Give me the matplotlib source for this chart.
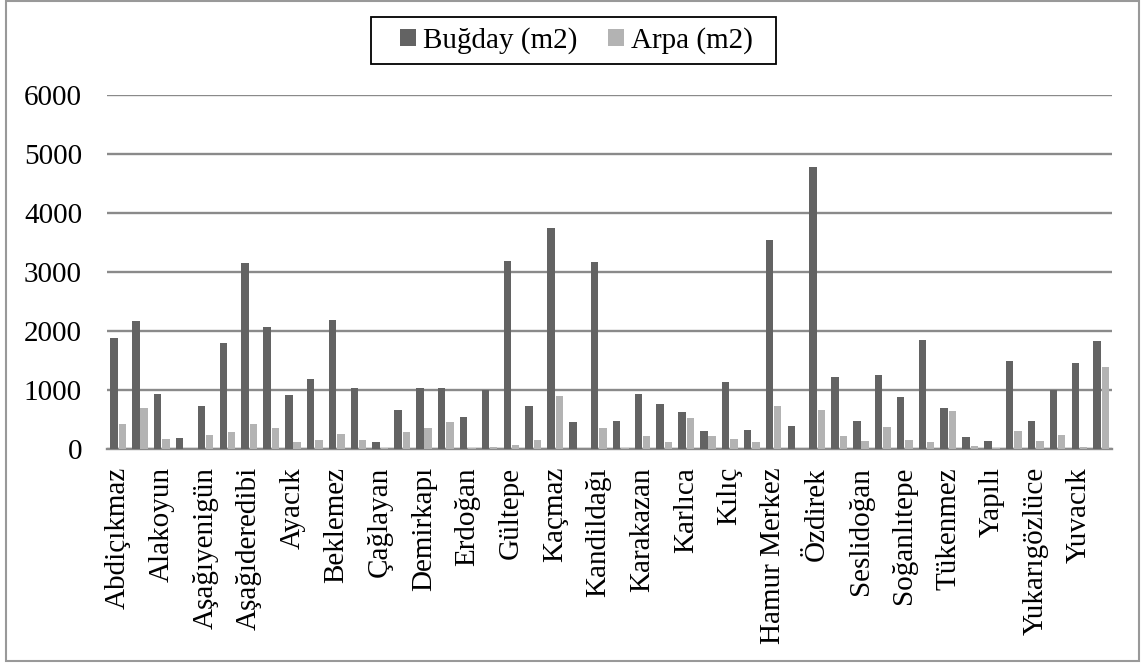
import numpy as np
import matplotlib.pyplot as plt
from matplotlib.patches import Rectangle

plt.rcParams['font.family'] = ['Liberation Serif', 'DejaVu Serif']

# only every second village is labelled on the axis
villages = ["Abdiçıkmaz", "Alakoyun", "Aşağıyenigün", "Aşağıderedibi", "Ayacık",
            "Beklemez", "Çağlayan", "Demirkapı", "Erdoğan", "Gültepe", "Kaçmaz",
            "Kandildağı", "Karakazan", "Karlıca", "Kılıç", "Hamur Merkez", "Özdirek",
            "Seslidoğan", "Soğanlıtepe", "Tükenmez", "Yapılı", "Yukarıgözlüce", "Yuvacık"]

bugday = [1874, 2168, 931, 192, 734, 1795, 3156, 2072, 914, 1185, 2185, 1033,
          116, 660, 1033, 1033, 536, 999, 3189, 728, 3743, 457, 3161, 474,
          926, 756, 632, 305, 1140, 327, 3534, 384, 4781, 1225, 469, 1247,
          875, 1840, 694, 198, 135, 1485, 469, 1005, 1456, 1829]
arpa = [429, 700, 164, 0, 231, 288, 418, 356, 113, 152, 260, 158,
        18, 288, 356, 463, 15, 34, 68, 152, 898, 0, 350, 17,
        215, 113, 525, 215, 175, 119, 723, 0, 655, 220, 135, 378,
        152, 124, 649, 45, 20, 305, 135, 237, 34, 1389]

dark = "#636363"
light = "#b3b3b3"

fig = plt.figure(figsize=(11.46, 6.64), dpi=100)
ax = fig.add_axes([0.0934, 0.3238, 0.8769, 0.5336])

x = np.arange(len(bugday))
w = 0.34
ax.bar(x - w / 2 - 0.01, bugday, w, color=dark, label="Buğday (m2)", zorder=3)
ax.bar(x + w / 2 + 0.03, arpa, w, color=light, label="Arpa (m2)", zorder=3)

ax.set_xlim(-0.5, len(bugday) - 0.5)
ax.set_ylim(0, 6000)
ax.set_yticks(range(0, 6001, 1000))
ax.grid(axis="y", color="#8a8a8a", linewidth=1.7, zorder=0)
ax.set_xticks(x[::2])
ax.set_xticklabels(villages, rotation=90)
ax.tick_params(axis="x", length=0, pad=13, labelsize=21)
ax.tick_params(axis="y", length=0, pad=18, labelsize=21)
for s in ["top", "right", "left"]:
    ax.spines[s].set_visible(False)
ax.spines["bottom"].set_color("#8a8a8a")
ax.spines["bottom"].set_linewidth(1.7)

leg = fig.legend(loc="center", bbox_to_anchor=(0.503, 0.939), ncol=2,
                 fontsize=21, frameon=False,
                 handlelength=0.55, handleheight=0.55, handletextpad=0.25,
                 columnspacing=1.05)

# legend box, drawn separately so its padding can match
fig.patches.append(Rectangle((371 / 1146, 1 - 64 / 664), 405 / 1146, 47 / 664,
                             transform=fig.transFigure, fill=False,
                             edgecolor="black", linewidth=1.3))

# outer chart border
fig.patches.append(Rectangle((6 / 1146, 3 / 664), 1133 / 1146, 660 / 664,
                             transform=fig.transFigure, fill=False,
                             edgecolor="#999999", linewidth=1.5))

plt.savefig("out.png", dpi=100)
